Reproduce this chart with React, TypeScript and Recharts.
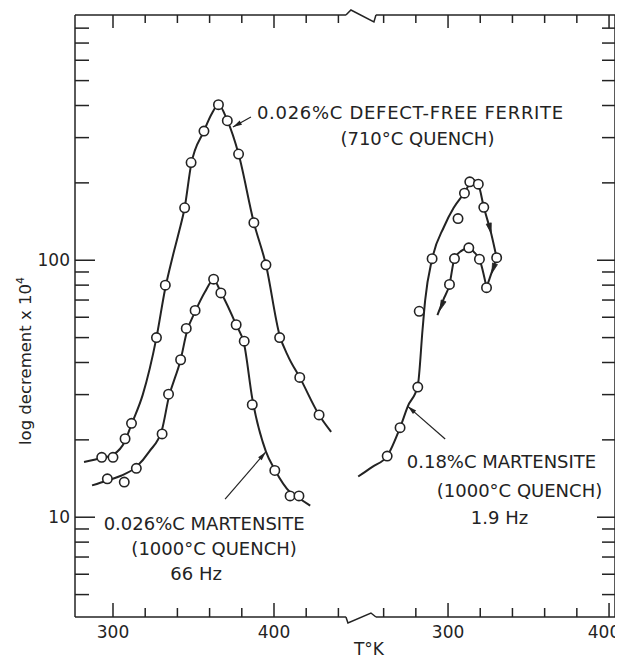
import React from 'react';
import { ComposedChart, Line, Scatter, XAxis, YAxis, ReferenceDot, ReferenceLine } from 'recharts';

const INK = '#232323';
const FONT = '"DejaVu Sans", Verdana, sans-serif';

// ---- axis set-up (temperature in K; right panel is placed after the axis break) ----
const X_MIN = 276.4;
const X_MAX = 611.8;
const OFFSET = 208.1; // shift applied to right-panel temperatures
const BREAK_U = 454;
const GAP_U = 9.3;
const Y_MIN = 4.09;
const Y_MAX = 900;

const X_TICKS_LEFT = [300, 320, 340, 360, 380, 400, 420, 440];
const X_TICKS_RIGHT = [260, 280, 300, 320, 340, 360, 380, 400];
const X_LABELS = [300, 400];
const Y_TICKS = [5, 6, 7, 8, 9, 10, 20, 30, 40, 50, 60, 70, 80, 90, 100, 200, 300, 400, 500, 600, 700, 800];
const Y_LABELS = [10, 100];

// ---- 0.026%C defect-free ferrite (710°C quench) ----
const FERRITE_PTS_T = [293, 300, 307.5, 311.5, 327, 332.5, 344.5, 348.5, 356.5, 365.5, 371, 378, 387.5, 395, 403.5, 416, 428];
const FERRITE_PTS_V = [17.1, 17.1, 20.2, 23.2, 50, 80, 160, 240, 318, 403, 349, 259, 140, 96, 50, 35, 25];
const FERRITE_CURVE_T = [282, 293, 300, 307.5, 311.5, 318.5, 327, 332.5, 337, 341, 344.5, 348.5, 356.5, 361, 365.5, 371, 378, 387.5, 395, 403.5, 409, 416, 428, 435.5];
const FERRITE_CURVE_V = [16.4, 17.0, 17.5, 19.8, 23, 30, 50, 78, 103, 129, 160, 235, 318, 368, 403, 350, 259, 140, 96, 51, 42, 35, 25, 21.5];

// ---- 0.026%C martensite (1000°C quench), 66 Hz ----
const MART1_PTS_T = [296.5, 307, 314.5, 330.5, 334.5, 342, 345.5, 351, 362.5, 367, 376.5, 381.5, 386.5, 400.5, 410, 415.5];
const MART1_PTS_V = [14.1, 13.7, 15.5, 21.1, 30.1, 41, 54.3, 63.8, 84.4, 74.6, 56.1, 48.4, 27.4, 15.2, 12.1, 12.1];
const MART1_CURVE_T = [287, 296.5, 305, 314.5, 322.5, 330.5, 334.5, 342, 346, 351, 357, 362.5, 367, 376.5, 381.5, 386.5, 395, 400.5, 410, 416, 422.5];
const MART1_CURVE_V = [13.3, 13.9, 14.5, 15.7, 18.0, 22.0, 29, 41, 53, 63, 75, 84, 75, 56, 47, 29, 18, 15.3, 12.5, 11.8, 11.1];

// ---- 0.18%C martensite (1000°C quench), 1.9 Hz (right panel) ----
const MART2_PTS_T = [262.2, 270.2, 281.2, 282.1, 290.1, 306.2, 310.2, 313.5, 318.8, 322.2, 330.2, 304.0, 312.9, 319.5, 300.9, 323.9];
const MART2_PTS_V = [17.3, 22.3, 32.1, 63.3, 101.4, 145.2, 182.4, 201.8, 197.7, 160.7, 102.3, 101.5, 111.8, 100.9, 80.5, 78.2];
const MART2_UP_T = [244.2, 253, 262.2, 270.2, 275, 281.2, 284.2, 285.8, 290.1, 297.5, 303.5, 310.2, 315.5, 318.8, 322.2, 326.8, 330.2];
const MART2_UP_V = [14.4, 15.7, 17.3, 22.3, 27.0, 32.5, 54, 70, 101, 135, 160, 183, 205, 197, 161, 127, 102];
const MART2_TURN_T = [330.2, 323.9];
const MART2_TURN_V = [102.3, 78.2];
const MART2_LOW_T = [293.4, 297, 300.9, 304, 308.5, 312.9, 316.5, 319.5, 323.9];
const MART2_LOW_V = [61.1, 70, 80.5, 101.5, 109, 111.8, 107, 100.9, 78.2];
const MART2_ARROW_T = [326.8, 327.2, 295.0];
const MART2_ARROW_V = [127.4, 89.0, 63.9];
const MART2_ARROW_DEG = [75.7, 108.4, 111.2];

// ---- annotations ----
const NOTES = [
  {
    T: 374.5, v: 330, right: false, end: [18, -10],
    lines: [
      { text: '0.026%C DEFECT-FREE FERRITE', dx: 24, dy: -8.3, anchor: 'start', ls: 0.7 },
      { text: '(710°C QUENCH)', dx: 184.5, dy: 18, anchor: 'middle', ls: 0 },
    ],
  },
  {
    T: 394.9, v: 17.95, right: false, end: [-40.7, 47.3],
    lines: [
      { text: '0.026%C MARTENSITE', dx: -61.7, dy: 78.3, anchor: 'middle', ls: 0 },
      { text: '(1000°C QUENCH)', dx: -51.7, dy: 103.3, anchor: 'middle', ls: 0 },
      { text: '66 Hz', dx: -69.7, dy: 128.3, anchor: 'middle', ls: 0 },
    ],
  },
  {
    T: 275.0, v: 27.0, right: true, end: [37.4, 32.7],
    lines: [
      { text: '0.18%C MARTENSITE', dx: 93.7, dy: 61.7, anchor: 'middle', ls: 0 },
      { text: '(1000°C QUENCH)', dx: 111.7, dy: 91, anchor: 'middle', ls: 0 },
      { text: '1.9 Hz', dx: 91.7, dy: 118, anchor: 'middle', ls: 0 },
    ],
  },
];

const left = (T: number[], V: number[]) => T.map((t, i) => ({ u: t, v: V[i] }));
const right = (T: number[], V: number[]) => T.map((t, i) => ({ u: t + OFFSET, v: V[i] }));

const ferritePts = left(FERRITE_PTS_T, FERRITE_PTS_V);
const ferriteCurve = left(FERRITE_CURVE_T, FERRITE_CURVE_V);
const mart1Pts = left(MART1_PTS_T, MART1_PTS_V);
const mart1Curve = left(MART1_CURVE_T, MART1_CURVE_V);
const mart2Pts = right(MART2_PTS_T, MART2_PTS_V);
const mart2Up = right(MART2_UP_T, MART2_UP_V);
const mart2Turn = right(MART2_TURN_T, MART2_TURN_V);
const mart2Low = right(MART2_LOW_T, MART2_LOW_V);

const X_TICKS = [...X_TICKS_LEFT, ...X_TICKS_RIGHT.map((t) => t + OFFSET)];
const tempOf = (u: number) => Math.round(u > BREAK_U ? u - OFFSET : u);

function arrowPath(x: number, y: number, ang: number, L = 9, W = 2.6) {
  const c = Math.cos(ang);
  const s = Math.sin(ang);
  const bx = x - L * c;
  const by = y - L * s;
  return `M${x},${y} L${bx - W * s},${by + W * c} L${bx + W * s},${by - W * c} Z`;
}

const CHART_W = 615;

const BottomTick = (p: any) => {
  const { x, y, payload } = p;
  const t = tempOf(payload.value);
  const major = X_LABELS.includes(t);
  const lx = Math.min(x, CHART_W - 19);
  return (
    <g>
      <line x1={x} y1={y} x2={x} y2={y - (major ? 14 : 9)} stroke={INK} strokeWidth={1.5} />
      {major && (
        <text x={lx} y={y + 21} textAnchor="middle" fontSize={17} fontFamily={FONT} fill={INK}>
          {t}
        </text>
      )}
    </g>
  );
};

const TopTick = (p: any) => {
  const { x, y, payload } = p;
  const t = tempOf(payload.value);
  const major = X_LABELS.includes(t);
  return <line x1={x} y1={y} x2={x} y2={y + (major ? 13 : 8)} stroke={INK} strokeWidth={1.5} />;
};

const LeftTick = (p: any) => {
  const { x, y, payload } = p;
  const v = payload.value;
  const major = Y_LABELS.includes(v);
  return (
    <g>
      <line x1={x} y1={y} x2={x + (major ? 20 : 14)} y2={y} stroke={INK} strokeWidth={1.5} />
      {major && (
        <text x={x - 5} y={y + 6} textAnchor="end" fontSize={17} fontFamily={FONT} fill={INK}>
          {v}
        </text>
      )}
    </g>
  );
};

const RightTick = (p: any) => {
  const { x, y, payload } = p;
  const major = Y_LABELS.includes(payload.value);
  return <line x1={x} y1={y} x2={x - (major ? 18 : 13)} y2={y} stroke={INK} strokeWidth={1.5} />;
};

const XTitle = (p: any) => {
  const vb = p.viewBox || { x: 0, y: 0 };
  return (
    <text x={vb.x + 294} y={vb.y + 38} textAnchor="middle" fontSize={17} fontFamily={FONT} fill={INK}>
      T°K
    </text>
  );
};

const YTitle = (p: any) => {
  const vb = p.viewBox || { x: 0, y: 0 };
  const cx = vb.x + 23;
  const cy = vb.y + 346;
  return (
    <text x={cx} y={cy} transform={`rotate(-90, ${cx}, ${cy})`} textAnchor="middle" fontSize={16.5} fontFamily={FONT} fill={INK}>
      log  decrement x 10<tspan dy={-7} fontSize={11}>4</tspan>
    </text>
  );
};

const Circle = (p: any) => (
  <circle cx={p.cx} cy={p.cy} r={4.7} fill="#fff" stroke={INK} strokeWidth={1.6} />
);

const BreakBottom = (p: any) => {
  const { cx, cy } = p;
  return (
    <polyline
      points={`${cx - 15},${cy} ${cx - 13},${cy + 6} ${cx + 10},${cy - 4} ${cx + 15},${cy}`}
      fill="none" stroke={INK} strokeWidth={1.5} strokeLinejoin="miter"
    />
  );
};

const BreakTop = (p: any) => {
  const { cx, cy } = p;
  return (
    <polyline
      points={`${cx - 15},${cy} ${cx - 10},${cy - 5} ${cx + 13},${cy + 7} ${cx + 15},${cy}`}
      fill="none" stroke={INK} strokeWidth={1.5} strokeLinejoin="miter"
    />
  );
};

const makeArrow = (deg: number) => (p: any) => (
  <path d={arrowPath(p.cx, p.cy, (deg * Math.PI) / 180, 10, 2.6)} fill={INK} stroke={INK} strokeWidth={0.8} />
);

const makeNote = (note: (typeof NOTES)[number]) => (p: any) => {
  const { cx, cy } = p;
  const ex = cx + note.end[0];
  const ey = cy + note.end[1];
  const ang = Math.atan2(cy - ey, cx - ex);
  return (
    <g>
      <line x1={ex} y1={ey} x2={cx} y2={cy} stroke={INK} strokeWidth={1.2} />
      <path d={arrowPath(cx, cy, ang, 9, 2.4)} fill={INK} />
      {note.lines.map((ln, i) => (
        <text
          key={i}
          x={cx + ln.dx}
          y={cy + ln.dy}
          textAnchor={ln.anchor as any}
          fontSize={18}
          letterSpacing={ln.ls}
          fontFamily={FONT}
          fill={INK}
        >
          {ln.text}
        </text>
      ))}
    </g>
  );
};

const frame = { stroke: INK, strokeWidth: 1.5 };

export default function App() {
  return (
    <ComposedChart width={CHART_W} height={652} margin={{ top: 6, right: 0, bottom: 0, left: 0 }}>
      <XAxis
        xAxisId={0} dataKey="u" type="number" domain={[X_MIN, X_MAX]} allowDataOverflow
        ticks={X_TICKS} interval={0} axisLine={false} tickLine={false} tickSize={0} tickMargin={0}
        height={43} tick={BottomTick} label={<XTitle />}
      />
      <XAxis
        xAxisId="top" orientation="top" dataKey="u" type="number" domain={[X_MIN, X_MAX]} allowDataOverflow
        ticks={X_TICKS} interval={0} axisLine={false} tickLine={false} tickSize={0} tickMargin={0}
        height={1} tick={TopTick}
      />
      <YAxis
        yAxisId={0} type="number" scale="log" domain={[Y_MIN, Y_MAX]} allowDataOverflow
        ticks={Y_TICKS} interval={0} axisLine={frame} tickLine={false} tickSize={0} tickMargin={0}
        width={67} tick={LeftTick} label={<YTitle />}
      />
      <YAxis
        yAxisId="right" orientation="right" type="number" scale="log" domain={[Y_MIN, Y_MAX]} allowDataOverflow
        ticks={Y_TICKS} interval={0} axisLine={frame} tickLine={false} tickSize={0} tickMargin={0}
        width={8} tick={RightTick}
      />

      <ReferenceLine segment={[{ x: X_MIN, y: Y_MIN }, { x: BREAK_U - GAP_U, y: Y_MIN }]} {...frame} ifOverflow="visible" />
      <ReferenceLine segment={[{ x: BREAK_U + GAP_U, y: Y_MIN }, { x: X_MAX, y: Y_MIN }]} {...frame} ifOverflow="visible" />
      <ReferenceLine segment={[{ x: X_MIN, y: Y_MAX }, { x: BREAK_U - GAP_U, y: Y_MAX }]} {...frame} ifOverflow="visible" />
      <ReferenceLine segment={[{ x: BREAK_U + GAP_U, y: Y_MAX }, { x: X_MAX, y: Y_MAX }]} {...frame} ifOverflow="visible" />
      <ReferenceDot x={BREAK_U} y={Y_MIN} ifOverflow="visible" shape={BreakBottom} />
      <ReferenceDot x={BREAK_U} y={Y_MAX} ifOverflow="visible" shape={BreakTop} />

      <Line data={ferriteCurve} dataKey="v" type="monotone" stroke={INK} strokeWidth={2} dot={false} isAnimationActive={false} />
      <Line data={mart1Curve} dataKey="v" type="monotone" stroke={INK} strokeWidth={2} dot={false} isAnimationActive={false} />
      <Line data={mart2Up} dataKey="v" type="monotone" stroke={INK} strokeWidth={2} dot={false} isAnimationActive={false} />
      <Line data={mart2Turn} dataKey="v" type="linear" stroke={INK} strokeWidth={2} dot={false} isAnimationActive={false} />
      <Line data={mart2Low} dataKey="v" type="monotone" stroke={INK} strokeWidth={2} dot={false} isAnimationActive={false} />

      <Scatter data={ferritePts} dataKey="v" shape={Circle} isAnimationActive={false} />
      <Scatter data={mart1Pts} dataKey="v" shape={Circle} isAnimationActive={false} />
      <Scatter data={mart2Pts} dataKey="v" shape={Circle} isAnimationActive={false} />

      {MART2_ARROW_T.map((t, i) => (
        <ReferenceDot key={`a${i}`} x={t + OFFSET} y={MART2_ARROW_V[i]} ifOverflow="visible" shape={makeArrow(MART2_ARROW_DEG[i])} />
      ))}
      {NOTES.map((n, i) => (
        <ReferenceDot key={`n${i}`} x={n.right ? n.T + OFFSET : n.T} y={n.v} ifOverflow="visible" shape={makeNote(n)} />
      ))}
    </ComposedChart>
  );
}
